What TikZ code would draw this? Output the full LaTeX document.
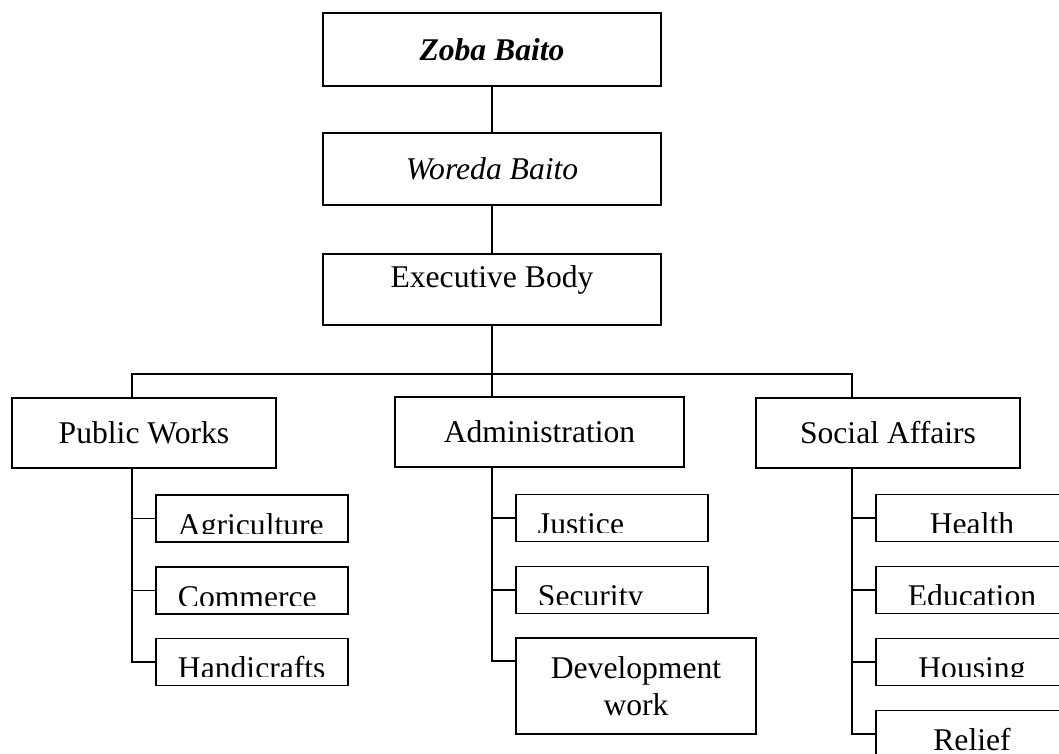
\documentclass[tikz,border=0pt]{standalone}
\usepackage{fontspec}
\setmainfont{Liberation Serif}
\usetikzlibrary{calc}

\tikzset{
  box/.style={draw, inner sep=0pt, align=center},
  unit/.style={box, minimum width=3.84cm, minimum height=0.94cm},
  cuttext/.style={draw=none, inner sep=0pt, minimum width=0pt, minimum height=0pt},
  cutdepth/.store in=\cutdepth, cutdepth=0.76cm,
  % text cut off near the bottom of the small boxes
  lefttext/.style={path picture={
      \clip ([yshift=-\cutdepth]path picture bounding box.north west)
      rectangle (path picture bounding box.north east);
      \node[cuttext, anchor=base west]
      at ([xshift=0.42cm, yshift=-0.8cm]path picture bounding box.north west) {#1};}},
  midtext/.style={path picture={
      \clip ([yshift=-\cutdepth]path picture bounding box.north west)
      rectangle (path picture bounding box.north east);
      \node[cuttext, anchor=base]
      at ([yshift=-0.8cm]path picture bounding box.north) {#1};}}
}

\begin{document}
\begin{tikzpicture}[x=0.02cm, y=-0.02cm, line width=1.1pt,
    font=\fontsize{18}{21}\selectfont]
      \clip (0,0) rectangle (1059,754);

      \node at (492,49.5)
      [box, minimum width=6.76cm, minimum height=1.46cm, name=zoba]
      {\textbf{\textit{Zoba Baito}}};

      \node at (492,169)
      [box, minimum width=6.76cm, minimum height=1.44cm, name=woreda]
      {\textit{Woreda Baito}};

      \node at (492,289.5)
      [box, minimum width=6.76cm, minimum height=1.42cm, name=exec,
      text height=0.43cm, text depth=0.53cm]
      {Executive Body};

      \draw (zoba) -- (woreda);
      \draw (woreda) -- (exec);

      \node at (144,433)
      [box, minimum width=5.28cm, minimum height=1.4cm, name=pubw]
      {Public Works};

      \node at (539.5,432)
      [box, minimum width=5.78cm, minimum height=1.4cm, name=admin]
      {Administration};

      \node at (888,433)
      [box, minimum width=5.28cm, minimum height=1.4cm, name=social]
      {Social Affairs};

      \coordinate (busL) at (132,374);
      \coordinate (busR) at (852,374);

      \draw (exec) -- (exec |- admin.north);
      \draw (busL |- pubw.north) -- (busL) -- (busR) -- (busR |- social.north);

      % public works
      \node at (252,518.5) [unit, name=agri, lefttext=Agriculture] {};
      \node at (252,590.5) [unit, name=comm, lefttext=Commerce] {};
      \node at (252,662) [unit, name=handi, lefttext=Handicrafts] {};

      \draw (busL |- pubw.south) |- (handi.west);
      \draw (busL |- agri) -- (agri.west);
      \draw (busL |- comm) -- (comm.west);

      % administration
      \node at (612,518) [unit, name=just, lefttext=Justice] {};
      \node at (612,590) [unit, name=secu, lefttext=Security] {};
      \node at (636,686)
      [box, minimum width=4.8cm, minimum height=1.92cm, name=devel]
      {Development\\work};

      \draw (exec |- admin.south) |- ([yshift=-0.48cm]devel.north west);
      \draw (exec |- just) -- (just.west);
      \draw (exec |- secu) -- (secu.west);

      % social affairs
      \node at (972,518) [unit, name=health, midtext=Health] {};
      \node at (972,590) [unit, name=edu, midtext=Education] {};
      \node at (972,662) [unit, name=hous, midtext=Housing] {};
      \node at (972,734) [unit, name=relief, cutdepth=0.94cm, midtext=Relief] {};

      \draw (busR |- social.south) |- (relief.west);
      \draw (busR |- health) -- (health.west);
      \draw (busR |- edu) -- (edu.west);
      \draw (busR |- hous) -- (hous.west);
\end{tikzpicture}
\end{document}
